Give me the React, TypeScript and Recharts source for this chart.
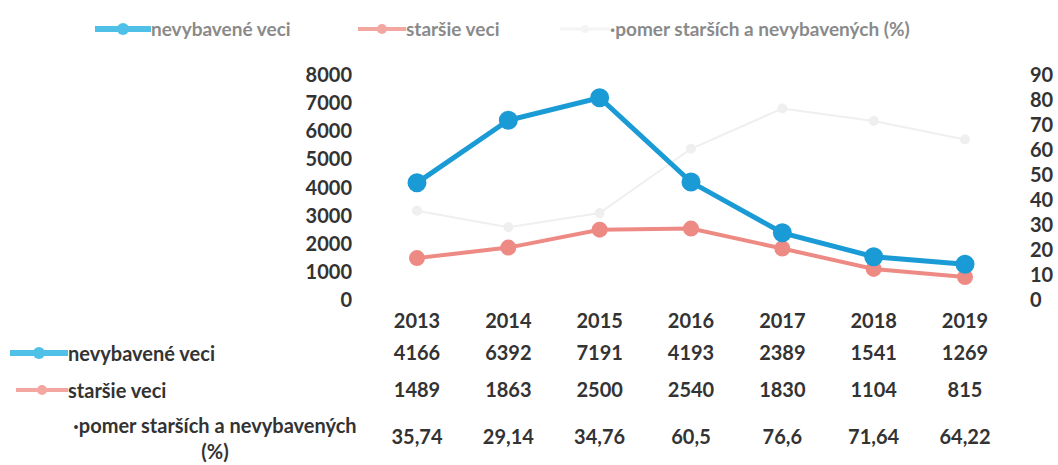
import { CartesianGrid, Line, LineChart, XAxis, YAxis } from "recharts"

const years = ["2013", "2014", "2015", "2016", "2017", "2018", "2019"]
const nevybavene = [4166, 6392, 7191, 4193, 2389, 1541, 1269]
const starsie = [1489, 1863, 2500, 2540, 1830, 1104, 815]
const pomer = [35.74, 29.14, 34.76, 60.5, 76.6, 71.64, 64.22]
const pomerLabels = ["35,74", "29,14", "34,76", "60,5", "76,6", "71,64", "64,22"]
const leftTicks = [0, 1000, 2000, 3000, 4000, 5000, 6000, 7000, 8000]
const rightTicks = [0, 10, 20, 30, 40, 50, 60, 70, 80, 90]

const data = years.map((y, i) => ({
  year: y,
  nevybavene: nevybavene[i],
  starsie: starsie[i],
  pomer: pomer[i],
}))

const FONT = "Lato, 'Open Sans', sans-serif"
const BLUE = "#1a9bd6"
const PINK = "#ee8a84"
const GRAY = "#efefef"
const TEXT = "#333"

function YearTick(props: any) {
  const { x, y, payload, index } = props
  const i = index ?? years.indexOf(payload.value)
  const style = { fontFamily: FONT, fontWeight: 700, fontSize: 20, fill: TEXT }
  return (
    <g>
      <text x={x} y={y + 28} textAnchor="middle" style={style}>{payload.value}</text>
      <text x={x} y={y + 60} textAnchor="middle" style={style}>{nevybavene[i]}</text>
      <text x={x} y={y + 97} textAnchor="middle" style={style}>{starsie[i]}</text>
      <text x={x} y={y + 144} textAnchor="middle" style={style}>{pomerLabels[i]}</text>
    </g>
  )
}

function Icon({ color, thick, r, w }: { color: string; thick: number; r: number; w: number }) {
  return (
    <svg width={w} height={16} style={{ verticalAlign: "middle" }}>
      <line x1={0} y1={8} x2={w} y2={8} stroke={color} strokeWidth={thick} />
      <circle cx={w / 2} cy={8} r={r} fill={color} />
    </svg>
  )
}

export default function App() {
  const legendText = { fontFamily: FONT, fontWeight: 700, fontSize: 19, color: "#8a8a8a" }
  const rowText = { fontFamily: FONT, fontWeight: 700, fontSize: 20, color: TEXT }
  return (
    <div style={{ position: "absolute", left: 0, top: 0, width: 1058, height: 465, background: "#fff" }}>
      <div style={{ position: "absolute", top: 17, left: 95, display: "flex", alignItems: "center", ...legendText }}>
        <Icon color="#4fc0e8" thick={6} r={6} w={56} />
        <span>nevybavené veci</span>
      </div>
      <div style={{ position: "absolute", top: 17, left: 358, display: "flex", alignItems: "center", ...legendText }}>
        <Icon color="#f4a6a0" thick={4} r={5} w={48} />
        <span>staršie veci</span>
      </div>
      <div style={{ position: "absolute", top: 17, left: 560, display: "flex", alignItems: "center", ...legendText }}>
        <Icon color="#f4f4f4" thick={3} r={4} w={50} />
        <span>·pomer starších a nevybavených (%)</span>
      </div>

      <div style={{ position: "absolute", top: 341, left: 10, display: "flex", alignItems: "center", ...rowText }}>
        <Icon color="#4fc0e8" thick={6} r={6} w={58} />
        <span>nevybavené veci</span>
      </div>
      <div style={{ position: "absolute", top: 378, left: 16, display: "flex", alignItems: "center", ...rowText }}>
        <Icon color="#f4a6a0" thick={4} r={5} w={52} />
        <span>staršie veci</span>
      </div>
      <div style={{ position: "absolute", top: 412, left: 62, width: 306, textAlign: "center", lineHeight: "26px", ...rowText }}>
        ·pomer starších a nevybavených
        <br />
        (%)
      </div>

      <div style={{ position: "absolute", left: 0, top: 0 }}>
        <LineChart width={1058} height={465} data={data} margin={{ top: 75, right: 0, bottom: 0, left: 0 }}>
          <CartesianGrid vertical={false} horizontal={false} />
          <XAxis
            dataKey="year"
            height={165}
            axisLine={false}
            tickLine={false}
            tickSize={0}
            tickMargin={0}
            interval={0}
            padding={{ left: 46, right: 46 }}
            tick={<YearTick />}
          />
          <YAxis
            yAxisId="left"
            width={371}
            domain={[0, 8000]}
            ticks={leftTicks}
            interval={0}
            axisLine={false}
            tickLine={false}
            tickSize={0}
            tickMargin={19}
            tick={{ fontFamily: FONT, fontWeight: 700, fontSize: 20, fill: TEXT }}
          />
          <YAxis
            yAxisId="right"
            orientation="right"
            width={47}
            domain={[0, 90]}
            ticks={rightTicks}
            interval={0}
            axisLine={false}
            tickLine={false}
            tickSize={0}
            tickMargin={19}
            tick={{ fontFamily: FONT, fontWeight: 700, fontSize: 20, fill: TEXT }}
          />
          <Line
            yAxisId="right"
            dataKey="pomer"
            stroke={GRAY}
            strokeWidth={2}
            dot={{ r: 4, fill: GRAY, stroke: GRAY }}
            isAnimationActive={false}
          />
          <Line
            yAxisId="left"
            dataKey="starsie"
            stroke={PINK}
            strokeWidth={4}
            dot={{ r: 6, fill: PINK, stroke: PINK }}
            isAnimationActive={false}
          />
          <Line
            yAxisId="left"
            dataKey="nevybavene"
            stroke={BLUE}
            strokeWidth={5}
            dot={{ r: 7, fill: BLUE, stroke: BLUE }}
            isAnimationActive={false}
          />
        </LineChart>
      </div>
    </div>
  )
}
